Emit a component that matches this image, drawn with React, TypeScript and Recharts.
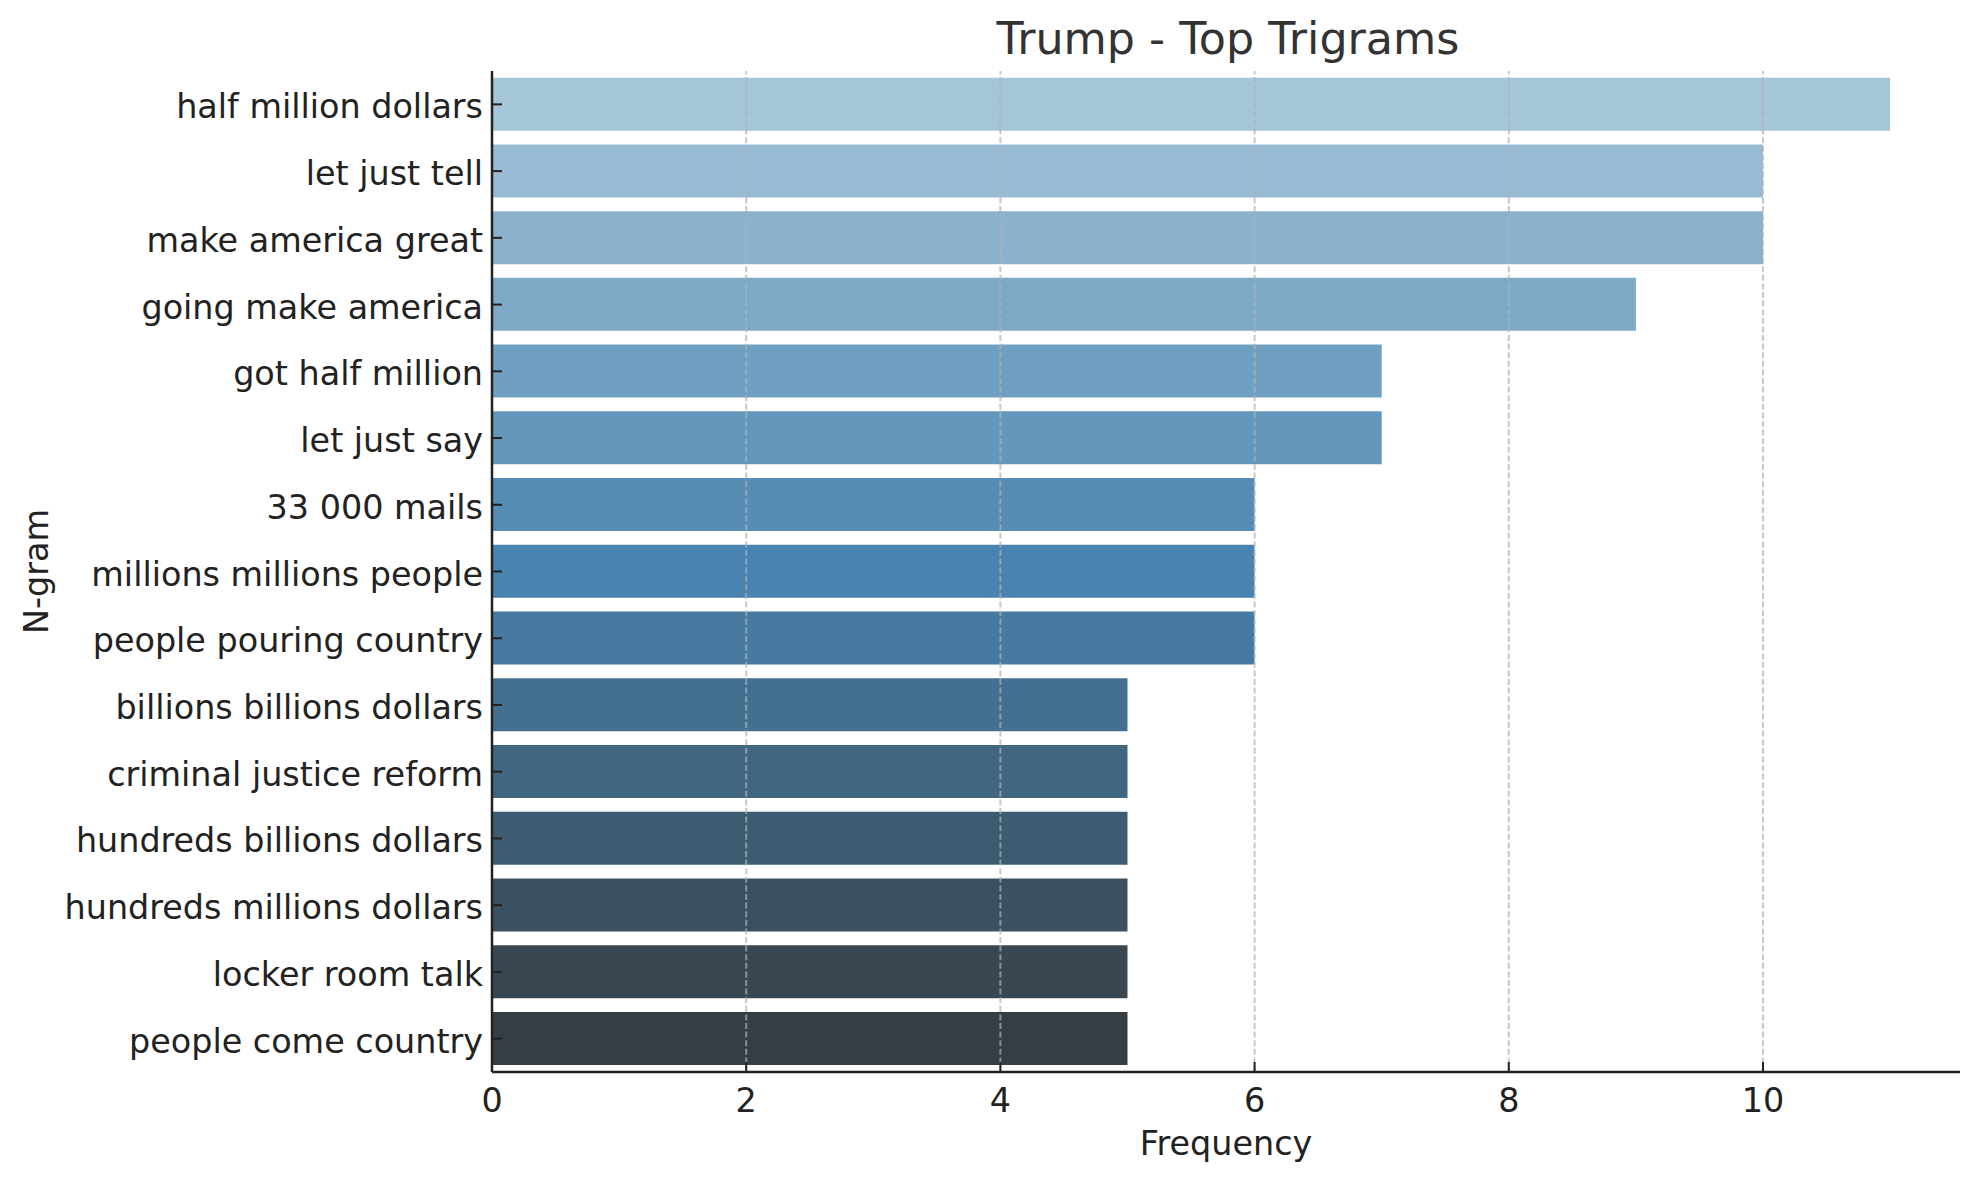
import React from 'react';
import { BarChart, Bar, XAxis, YAxis, Cell, ReferenceLine, Label } from 'recharts';

const categories: string[] = [
  'half million dollars',
  'let just tell',
  'make america great',
  'going make america',
  'got half million',
  'let just say',
  '33 000 mails',
  'millions millions people',
  'people pouring country',
  'billions billions dollars',
  'criminal justice reform',
  'hundreds billions dollars',
  'hundreds millions dollars',
  'locker room talk',
  'people come country',
];
const frequencies: number[] = [11, 10, 10, 9, 7, 7, 6, 6, 6, 5, 5, 5, 5, 5, 5];
const xTicks: number[] = [0, 2, 4, 6, 8, 10];
const gridTicks: number[] = [2, 4, 6, 8, 10];

const data = categories.map((name, i) => ({ name, value: frequencies[i] }));

// seaborn-like "Blues_d" palette with 0.75 desaturation
const C1 = [171.3, 207.7, 229.7];
const C2 = [55, 135, 192.3];
const C3 = [51, 51, 51];
function blend(p: number): number[] {
  let a = C1, b = C2, t = p * 2;
  if (p > 0.5) { a = C2; b = C3; t = p * 2 - 1; }
  return a.map((v, i) => v + (b[i] - v) * t);
}
function desat(rgb: number[], prop = 0.75): number[] {
  const c = rgb.map((v) => v / 255);
  const mx = Math.max(...c), mn = Math.min(...c);
  if (mx === mn) return rgb.map((v) => Math.round(v));
  const l = (mx + mn) / 2;
  const s = l <= 0.5 ? (mx - mn) / (mx + mn) : (mx - mn) / (2 - mx - mn);
  const s2 = s * prop;
  const q = l <= 0.5 ? l * (1 + s2) : l + s2 - l * s2;
  const p = 2 * l - q;
  return c.map((v) => Math.round((p + ((v - mn) / (mx - mn)) * (q - p)) * 255));
}
function hex(rgb: number[]): string {
  return '#' + rgb.map((v) => Math.max(0, Math.min(255, v)).toString(16).padStart(2, '0')).join('');
}
const barColors = categories.map((_, j) => hex(desat(blend((j + 1) / 16))));

const FONT = "'DejaVu Sans', sans-serif";
const INK = '#222222';
const FS = 33.4;

const YTick = (props: any) => {
  const { x, y, payload } = props;
  return (
    <g>
      <line x1={x + 9} x2={x + 19} y1={y} y2={y} stroke={INK} strokeWidth={2} />
      <text x={x} y={y} dy="0.42em" textAnchor="end" fontSize={FS} fill={INK} fontFamily={FONT}>
        {payload.value}
      </text>
    </g>
  );
};

const XTick = (props: any) => {
  const { x, y, payload } = props;
  return (
    <g>
      <line x1={x} x2={x} y1={y - 16} y2={y - 26} stroke={INK} strokeWidth={2} />
      <text x={x} y={y} dy="0.71em" textAnchor="middle" fontSize={FS} fill={INK} fontFamily={FONT}>
        {payload.value}
      </text>
    </g>
  );
};

export default function App() {
  return (
    <div style={{ position: 'absolute', left: 0, top: 0, width: 1979, height: 1180, background: '#fff' }}>
      <BarChart
        width={1979}
        height={1180}
        data={data}
        layout="vertical"
        margin={{ top: 71, right: 19, bottom: 0, left: 0 }}
        barCategoryGap="10%"
      >
        <XAxis
          type="number"
          domain={[0, 11.55]}
          ticks={xTicks}
          height={108}
          tickSize={0}
          tickLine={false}
          tickMargin={16}
          tick={<XTick />}
          axisLine={{ stroke: INK, strokeWidth: 2.5 }}
        >
          <Label
            value="Frequency"
            position="insideBottom"
            offset={25}
            style={{ fontSize: FS, fill: INK, fontFamily: FONT }}
          />
        </XAxis>
        <YAxis
          type="category"
          dataKey="name"
          width={492}
          interval={0}
          tickSize={0}
          tickLine={false}
          tickMargin={9}
          tick={<YTick />}
          axisLine={{ stroke: INK, strokeWidth: 2.5 }}
        >
          <Label
            content={(p: any) => {
              const vb = p.viewBox || { y: 71, height: 1001 };
              const cx = 36;
              const cy = vb.y + vb.height / 2;
              return (
                <text
                  x={cx}
                  y={cy}
                  dy="0.36em"
                  transform={`rotate(-90 ${cx} ${cy})`}
                  textAnchor="middle"
                  fontSize={FS}
                  fill={INK}
                  fontFamily={FONT}
                >
                  N-gram
                </text>
              );
            }}
          />
        </YAxis>
        <Bar dataKey="value" isAnimationActive={false}>
          {data.map((d, i) => (
            <Cell key={d.name} fill={barColors[i]} />
          ))}
        </Bar>
        {gridTicks.map((t) => (
          <ReferenceLine
            key={t}
            x={t}
            stroke="#b0b0b0"
            strokeOpacity={0.7}
            strokeWidth={2}
            strokeDasharray="6 2.6"
          />
        ))}
      </BarChart>
      <svg
        width={1979}
        height={1180}
        style={{ position: 'absolute', left: 0, top: 0, pointerEvents: 'none' }}
      >
        <text x={1228} y={54} textAnchor="middle" fontSize={44.4} fill="#333333" fontFamily={FONT}>
          Trump - Top Trigrams
        </text>
      </svg>
    </div>
  );
}
